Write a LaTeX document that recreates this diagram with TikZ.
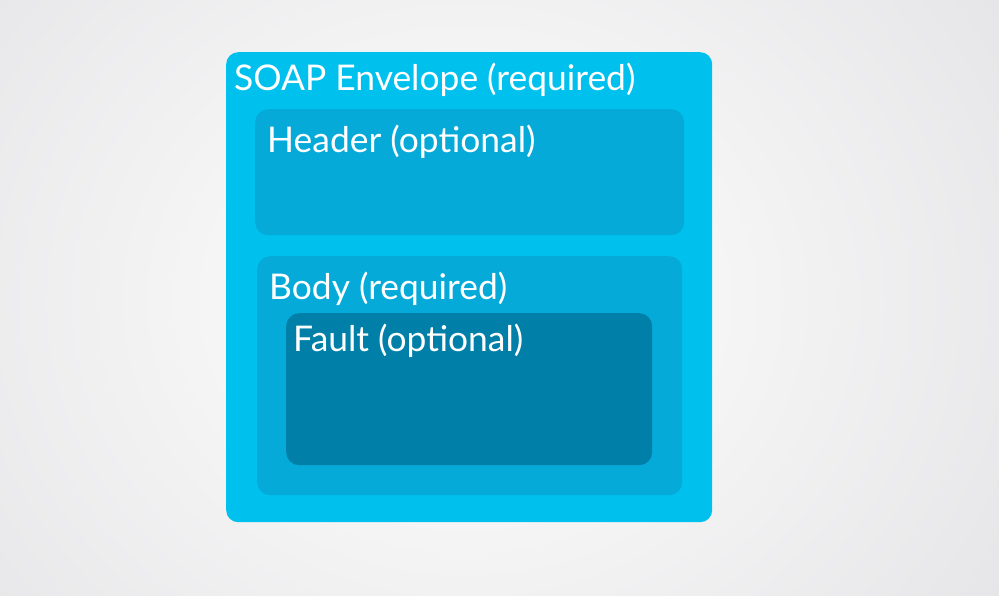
\documentclass[tikz,border=0pt]{standalone}
\usepackage{fontspec}
\setmainfont{Lato}
\definecolor{envblue}{HTML}{00C0EE}
\definecolor{partblue}{HTML}{05AAD8}
\definecolor{faultblue}{HTML}{0080A8}
\definecolor{bggray}{HTML}{E6E6E8}

\begin{document}
\begin{tikzpicture}[x=1pt, y=-1pt,
    box/.style={rectangle, anchor=north west, rounded corners=13pt, inner sep=0pt},
    lbl/.style={anchor=base west, text=white, inner sep=0pt, font=\fontsize{35.4}{35.4}\selectfont}]
    % Background
    \useasboundingbox (0,0) rectangle (999,596);
    \shade[inner color=white, outer color=bggray] (-170,-250) rectangle (1100,850);

    % Boxes
    \node[box, fill=envblue, minimum width=486pt, minimum height=470pt, rounded corners=12pt] (envelope) at (226,52) {};
    \node[box, fill=partblue, minimum width=429pt, minimum height=126pt] (header) at (255,109) {};
    \node[box, fill=partblue, minimum width=425pt, minimum height=239pt] (body) at (257,256) {};
    \node[box, fill=faultblue, minimum width=366pt, minimum height=152pt] (fault) at (286,313) {};

    % Labels
    \node[lbl] (envelope-text) at (234,91) {SOAP Envelope (required)};
    \node[lbl] (header-text) at (267,153) {Header (optional)};
    \node[lbl] (body-text) at (269,299) {Body (required)};
    \node[lbl] (fault-text) at (293,351) {Fault (optional)};

\end{tikzpicture}
\end{document}
